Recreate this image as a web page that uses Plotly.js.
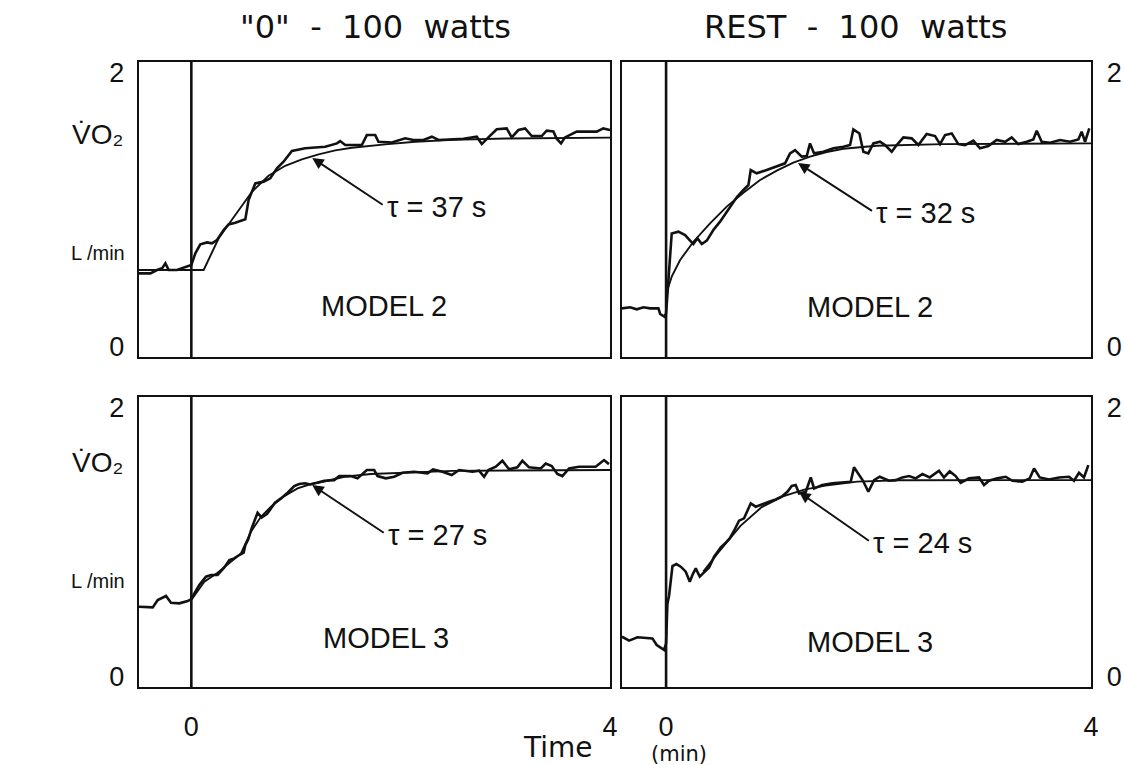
<!DOCTYPE html>
<html>
<head>
<meta charset="utf-8">
<script src="https://cdn.plot.ly/plotly-3.0.1.min.js"></script>
<style>html,body{margin:0;padding:0;background:#fff;}#chart{width:1124px;height:765px;}</style>
</head>
<body>
<div id="chart"></div>
<script>
// ---------- DATA (time in min, VO2 in L/min) ----------
// Top-left: "0" - 100 watts, MODEL 2
const tlFitT = [-0.5, 0.0, 0.118, 0.261, 0.42, 0.579, 0.738, 0.897, 1.056, 1.216, 1.375, 1.534, 1.852, 2.138, 2.5, 3.0, 4.0];
const tlFitV = [0.557, 0.557, 0.557, 0.789, 0.964, 1.13, 1.247, 1.32, 1.367, 1.404, 1.433, 1.452, 1.477, 1.496, 1.51, 1.52, 1.526];
const tlDataT = [-0.5, -0.391, -0.328, -0.28, -0.248, -0.216, -0.137, 0.0, 0.038, 0.086, 0.150, 0.197, 0.245, 0.309, 0.356, 0.42, 0.516, 0.547, 0.611, 0.691, 0.754, 0.818, 0.881, 0.961, 1.088, 1.279, 1.391, 1.422, 1.47, 1.629, 1.677, 1.757, 1.788, 1.916, 2.043, 2.122, 2.218, 2.298, 2.361, 2.473, 2.6, 2.727, 2.775, 2.838, 2.918, 3.013, 3.061, 3.125, 3.189, 3.252, 3.348, 3.395, 3.459, 3.491, 3.532, 3.57, 3.682, 3.873, 3.936, 4.0];
const tlDataV = [0.532, 0.532, 0.557, 0.569, 0.606, 0.557, 0.557, 0.593, 0.679, 0.745, 0.759, 0.752, 0.777, 0.85, 0.891, 0.903, 0.928, 1.069, 1.191, 1.204, 1.228, 1.301, 1.35, 1.428, 1.448, 1.46, 1.484, 1.501, 1.472, 1.472, 1.545, 1.545, 1.496, 1.491, 1.521, 1.509, 1.509, 1.533, 1.509, 1.513, 1.518, 1.533, 1.479, 1.528, 1.587, 1.594, 1.528, 1.582, 1.594, 1.538, 1.538, 1.577, 1.572, 1.518, 1.484, 1.528, 1.57, 1.57, 1.594, 1.582];

// Top-right: REST - 100 watts, MODEL 2
const trFitT = [0.0, 0.0125, 0.053, 0.132, 0.257, 0.414, 0.571, 0.728, 0.885, 1.042, 1.198, 1.355, 1.512, 1.669, 1.983, 2.61, 4.0];
const trFitV = [0.276, 0.41, 0.508, 0.63, 0.764, 0.899, 1.021, 1.123, 1.216, 1.284, 1.343, 1.387, 1.421, 1.445, 1.467, 1.479, 1.484];
const trDataT = [-0.415, -0.339, -0.276, -0.213, -0.151, -0.072, -0.056, -0.016, 0.0, 0.0125, 0.038, 0.053, 0.116, 0.179, 0.226, 0.257, 0.295, 0.336, 0.383, 0.445, 0.508, 0.587, 0.665, 0.728, 0.775, 0.797, 0.853, 0.947, 1.042, 1.12, 1.167, 1.214, 1.277, 1.324, 1.355, 1.393, 1.481, 1.575, 1.669, 1.732, 1.763, 1.82, 1.857, 1.904, 1.951, 2.014, 2.061, 2.124, 2.171, 2.234, 2.312, 2.375, 2.453, 2.532, 2.579, 2.626, 2.689, 2.751, 2.814, 2.893, 2.955, 3.034, 3.112, 3.191, 3.253, 3.316, 3.395, 3.457, 3.489, 3.536, 3.614, 3.708, 3.802, 3.881, 3.912, 3.944, 3.984];
const trDataV = [0.276, 0.284, 0.269, 0.284, 0.276, 0.276, 0.235, 0.215, 0.24, 0.386, 0.63, 0.825, 0.838, 0.813, 0.772, 0.747, 0.789, 0.747, 0.772, 0.85, 0.911, 0.996, 1.089, 1.143, 1.179, 1.289, 1.265, 1.289, 1.313, 1.338, 1.411, 1.435, 1.387, 1.391, 1.484, 1.411, 1.423, 1.448, 1.46, 1.472, 1.587, 1.557, 1.423, 1.411, 1.484, 1.496, 1.472, 1.423, 1.472, 1.528, 1.521, 1.472, 1.553, 1.538, 1.479, 1.545, 1.557, 1.479, 1.472, 1.504, 1.448, 1.465, 1.509, 1.496, 1.528, 1.479, 1.496, 1.513, 1.577, 1.496, 1.489, 1.509, 1.496, 1.513, 1.57, 1.496, 1.594];

// Bottom-left: "0" - 100 watts, MODEL 3
const blFitT = [0.0, 0.124, 0.251, 0.379, 0.474, 0.57, 0.665, 0.761, 0.888, 1.015, 1.142, 1.27, 1.461, 1.715, 2.129, 2.5, 4.0];
const blFitV = [0.568, 0.704, 0.771, 0.853, 0.915, 1.077, 1.188, 1.263, 1.342, 1.399, 1.432, 1.451, 1.486, 1.506, 1.516, 1.53, 1.536];
const blDataT = [-0.5, -0.369, -0.321, -0.242, -0.194, -0.115, -0.035, 0.0, 0.029, 0.076, 0.14, 0.188, 0.251, 0.315, 0.363, 0.41, 0.458, 0.5, 0.516, 0.544, 0.576, 0.608, 0.633, 0.671, 0.722, 0.754, 0.799, 0.856, 0.92, 0.983, 1.031, 1.085, 1.136, 1.2, 1.27, 1.365, 1.413, 1.524, 1.588, 1.677, 1.747, 1.779, 1.858, 1.938, 2.017, 2.129, 2.256, 2.31, 2.399, 2.488, 2.558, 2.686, 2.749, 2.797, 2.838, 2.909, 2.972, 3.036, 3.115, 3.163, 3.227, 3.338, 3.386, 3.443, 3.497, 3.545, 3.609, 3.704, 3.863, 3.943, 3.99];
const blDataV = [0.518, 0.513, 0.568, 0.598, 0.548, 0.543, 0.56, 0.575, 0.617, 0.68, 0.742, 0.754, 0.754, 0.811, 0.866, 0.878, 0.903, 0.92, 0.977, 1.02, 1.101, 1.176, 1.218, 1.183, 1.208, 1.243, 1.293, 1.325, 1.367, 1.417, 1.432, 1.437, 1.429, 1.441, 1.456, 1.461, 1.491, 1.491, 1.474, 1.536, 1.536, 1.491, 1.474, 1.486, 1.516, 1.523, 1.511, 1.541, 1.523, 1.499, 1.536, 1.523, 1.531, 1.486, 1.536, 1.561, 1.605, 1.541, 1.556, 1.605, 1.556, 1.548, 1.585, 1.566, 1.506, 1.491, 1.548, 1.561, 1.561, 1.61, 1.58];

// Bottom-right: REST - 100 watts, MODEL 3
const brFitT = [0.35, 0.5, 0.7, 0.9, 1.1, 1.3, 1.5, 1.8, 2.2, 2.8, 4.0];
const brFitV = [0.78, 0.93, 1.12, 1.26, 1.34, 1.39, 1.42, 1.45, 1.46, 1.461, 1.461];
const brDataT = [-0.415, -0.348, -0.27, -0.129, -0.088, -0.019, 0.0, 0.0126, 0.028, 0.06, 0.097, 0.138, 0.185, 0.223, 0.248, 0.279, 0.317, 0.358, 0.405, 0.452, 0.515, 0.562, 0.599, 0.64, 0.687, 0.734, 0.765, 0.797, 0.844, 0.891, 0.969, 1.032, 1.095, 1.142, 1.183, 1.22, 1.252, 1.315, 1.362, 1.393, 1.471, 1.565, 1.653, 1.738, 1.769, 1.81, 1.854, 1.904, 1.958, 2.011, 2.099, 2.162, 2.224, 2.287, 2.35, 2.413, 2.482, 2.569, 2.616, 2.67, 2.726, 2.773, 2.852, 2.946, 2.993, 3.04, 3.118, 3.197, 3.26, 3.354, 3.423, 3.464, 3.517, 3.605, 3.699, 3.793, 3.84, 3.887, 3.934, 3.975];
const brDataV = [0.295, 0.265, 0.29, 0.282, 0.233, 0.196, 0.245, 0.543, 0.6, 0.821, 0.836, 0.816, 0.779, 0.704, 0.754, 0.804, 0.742, 0.771, 0.811, 0.89, 0.96, 0.995, 1.027, 1.084, 1.159, 1.176, 1.238, 1.288, 1.263, 1.275, 1.3, 1.317, 1.342, 1.374, 1.417, 1.424, 1.362, 1.374, 1.481, 1.399, 1.424, 1.437, 1.441, 1.449, 1.556, 1.511, 1.456, 1.374, 1.461, 1.486, 1.456, 1.461, 1.481, 1.491, 1.474, 1.506, 1.481, 1.531, 1.481, 1.526, 1.491, 1.441, 1.474, 1.481, 1.424, 1.456, 1.474, 1.486, 1.456, 1.449, 1.474, 1.548, 1.481, 1.466, 1.481, 1.486, 1.456, 1.516, 1.481, 1.573];

// Labels
const panelTitles = ['"0"\u00a0 - \u00a0100\u00a0 watts', 'REST\u00a0 - \u00a0100\u00a0 watts'];
const modelLabels = ['MODEL 2', 'MODEL 2', 'MODEL 3', 'MODEL 3'];
const tauLabels = ['\u03c4 = 37 s', '\u03c4 = 32 s', '\u03c4 = 27 s', '\u03c4 = 24 s'];
const yTickVals = [0, 2];
const yTickText = ['0', '2'];
const xTickVals = [0, 4];
const xTickText = ['0', '4'];

// ---------- LAYOUT ----------
const FONT = 'Liberation Sans, Arial, Helvetica, sans-serif';
const WIDEFONT = 'DejaVu Sans, Verdana, sans-serif';
const ink = '#111111';
const dataLine = {color: ink, width: 2.6};
const fitLine = {color: ink, width: 1.9};

const traces = [
  {x: tlFitT, y: tlFitV, xaxis: 'x', yaxis: 'y', mode: 'lines', line: fitLine},
  {x: tlDataT, y: tlDataV, xaxis: 'x', yaxis: 'y', mode: 'lines', line: dataLine},
  {x: trFitT, y: trFitV, xaxis: 'x2', yaxis: 'y2', mode: 'lines', line: fitLine},
  {x: trDataT, y: trDataV, xaxis: 'x2', yaxis: 'y2', mode: 'lines', line: dataLine},
  {x: blFitT, y: blFitV, xaxis: 'x3', yaxis: 'y3', mode: 'lines', line: fitLine},
  {x: blDataT, y: blDataV, xaxis: 'x3', yaxis: 'y3', mode: 'lines', line: dataLine},
  {x: brFitT, y: brFitV, xaxis: 'x4', yaxis: 'y4', mode: 'lines', line: fitLine},
  {x: brDataT, y: brDataV, xaxis: 'x4', yaxis: 'y4', mode: 'lines', line: dataLine}
];

const W = 1124, H = 765;
const colL = [139 / W, 610 / W], colR = [622 / W, 1091 / W];
const rowT = [1 - 357 / H, 1 - 62 / H], rowB = [1 - 687 / H, 1 - 397 / H];

function xAx(domain, range, anchor, showLabels) {
  return {domain: domain, range: range, anchor: anchor, showline: true, mirror: true, linecolor: ink, linewidth: 2.4,
    showgrid: false, zeroline: false, ticks: '', tickmode: 'array',
    tickvals: showLabels ? xTickVals : [], ticktext: showLabels ? xTickText : [],
    ticklabelstandoff: 14, tickfont: {family: FONT, size: 27, color: ink}, fixedrange: true};
}
function yAx(domain, anchor, side) {
  return {domain: domain, range: [-0.08, 2.08], anchor: anchor, side: side, showline: true, mirror: true, linecolor: ink, linewidth: 2.4,
    showgrid: false, zeroline: false, ticks: '', tickmode: 'array', tickvals: yTickVals, ticktext: yTickText,
    ticklabelstandoff: side === 'left' ? 7 : 8, tickfont: {family: FONT, size: 27, color: ink}, fixedrange: true};
}

const ann = [];
function txt(xref, yref, x, y, text, size, family) {
  ann.push({xref: xref, yref: yref, x: x, y: y, text: text, showarrow: false, xanchor: 'center', yanchor: 'middle',
    font: {family: family || FONT, size: size, color: ink}});
}
// tau label with its arrow: arrow head on the fitted curve, text starts at the arrow tail
function tau(xr, yr, hx, hy, tx, ty, text) {
  ann.push({xref: xr, yref: yr, axref: xr, ayref: yr, x: hx, y: hy, ax: tx, ay: ty, text: text, showarrow: true,
    xanchor: 'left', yanchor: 'middle', borderpad: 0,
    arrowhead: 2, arrowsize: 1.2, arrowwidth: 1.9, arrowcolor: ink, standoff: 0, startstandoff: 4,
    font: {family: FONT, size: 29, color: ink}});
}
// panel titles
txt('paper', 'paper', 375 / W, 1 - 27 / H, panelTitles[0], 32, WIDEFONT);
txt('paper', 'paper', 856 / W, 1 - 27 / H, panelTitles[1], 32, WIDEFONT);
// y labels
txt('paper', 'paper', 97 / W, 1 - 134 / H, 'V\u0307O\u2082', 28);
txt('paper', 'paper', 97 / W, 1 - 463 / H, 'V\u0307O\u2082', 28);
txt('paper', 'paper', 98 / W, 1 - 253 / H, 'L /min', 20);
txt('paper', 'paper', 98 / W, 1 - 581 / H, 'L /min', 20);
// x labels
txt('paper', 'paper', 558 / W, 1 - 747 / H, 'Time', 28, WIDEFONT);
txt('paper', 'paper', 679 / W, 1 - 754 / H, '(min)', 21, WIDEFONT);
// model labels
txt('x', 'y', 1.84, 0.293, modelLabels[0], 29);
txt('x2', 'y2', 1.92, 0.286, modelLabels[1], 29);
txt('x3', 'y3', 1.86, 0.285, modelLabels[2], 29);
txt('x4', 'y4', 1.92, 0.255, modelLabels[3], 29);
// tau labels + arrows
tau('x', 'y', 1.155, 1.377, 1.86, 1.018, tauLabels[0]);
tau('x2', 'y2', 1.242, 1.34, 1.97, 0.974, tauLabels[1]);
tau('x3', 'y3', 1.155, 1.424, 1.87, 1.052, tauLabels[2]);
tau('x4', 'y4', 1.252, 1.372, 1.94, 0.992, tauLabels[3]);

// vertical lines at time 0
const shapes = [['x', 'y'], ['x2', 'y2'], ['x3', 'y3'], ['x4', 'y4']].map(p => ({
  type: 'line', xref: p[0], yref: p[1] + ' domain', x0: 0, x1: 0, y0: 0, y1: 1, line: {color: ink, width: 2.6}
}));

const layout = {
  width: W, height: H, margin: {l: 0, r: 0, t: 0, b: 0}, showlegend: false,
  paper_bgcolor: '#ffffff', plot_bgcolor: '#ffffff', font: {family: FONT, color: ink},
  xaxis: xAx(colL, [-0.5, 4], 'y', false),
  yaxis: yAx(rowT, 'x', 'left'),
  xaxis2: xAx(colR, [-0.415, 4], 'y2', false),
  yaxis2: yAx(rowT, 'x2', 'right'),
  xaxis3: xAx(colL, [-0.5, 4], 'y3', true),
  yaxis3: yAx(rowB, 'x3', 'left'),
  xaxis4: xAx(colR, [-0.415, 4], 'y4', true),
  yaxis4: yAx(rowB, 'x4', 'right'),
  annotations: ann, shapes: shapes
};

Plotly.newPlot('chart', traces, layout, {staticPlot: true, displayModeBar: false});
</script>
</body>
</html>
